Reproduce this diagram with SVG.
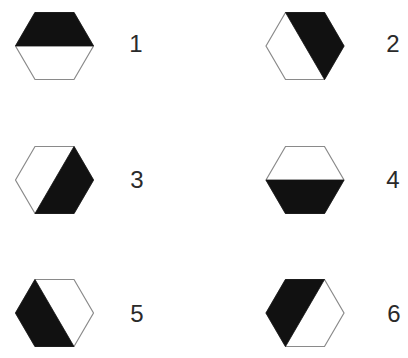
<svg xmlns="http://www.w3.org/2000/svg" width="408" height="358" viewBox="0 0 408 358">
<style>
.hex{fill:#fff;stroke:#8a8a8a;stroke-width:1.2}
.blk{fill:#111;stroke:#111;stroke-width:0.8;stroke-linejoin:round}
.lbl{font-family:"Liberation Sans",Arial,sans-serif;font-size:24px;fill:#2a2a2a;text-anchor:middle}
</style>
<defs>
<path id="h" d="M-39,0 L-19.5,-33.5 L19.5,-33.5 L39,0 L19.5,33.5 L-19.5,33.5 Z"/>
</defs>
<rect width="408" height="358" fill="#fff"/>
<g id="n1" transform="translate(54.5,46)">
<use href="#h" class="hex"/>
<path class="blk" d="M-39,0 L-19.5,-33.5 L19.5,-33.5 L39,0 Z"/>
</g>
<text class="lbl" x="136" y="52">1</text>
<g id="n2" transform="translate(305,46)">
<use href="#h" class="hex"/>
<path class="blk" d="M-19.5,-33.5 L19.5,-33.5 L39,0 L19.5,33.5 Z"/>
</g>
<text class="lbl" x="393" y="52">2</text>
<g id="n3" transform="translate(54.5,180)">
<use href="#h" class="hex"/>
<path class="blk" d="M19.5,-33.5 L39,0 L19.5,33.5 L-19.5,33.5 Z"/>
</g>
<text class="lbl" x="137" y="188">3</text>
<g id="n4" transform="translate(305,180)">
<use href="#h" class="hex"/>
<path class="blk" d="M-39,0 L39,0 L19.5,33.5 L-19.5,33.5 Z"/>
</g>
<text class="lbl" x="393" y="188">4</text>
<g id="n5" transform="translate(54.5,313)">
<use href="#h" class="hex"/>
<path class="blk" d="M-19.5,-33.5 L19.5,33.5 L-19.5,33.5 L-39,0 Z"/>
</g>
<text class="lbl" x="137" y="322">5</text>
<g id="n6" transform="translate(305,313)">
<use href="#h" class="hex"/>
<path class="blk" d="M19.5,-33.5 L-19.5,33.5 L-39,0 L-19.5,-33.5 Z"/>
</g>
<text class="lbl" x="394" y="322">6</text>
<g id="connectors"/>
</svg>
